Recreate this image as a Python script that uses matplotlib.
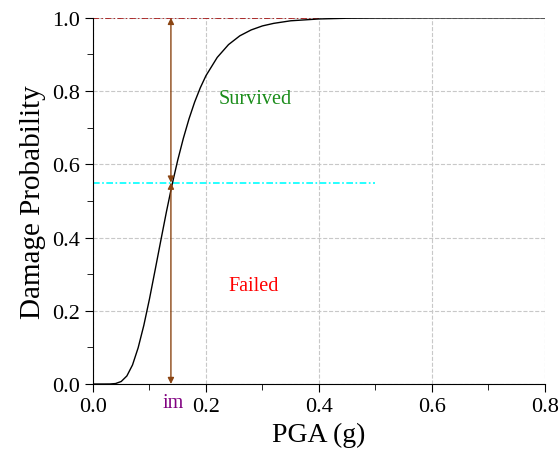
import numpy as np
import matplotlib
matplotlib.use('Agg')
from matplotlib import pyplot as plt
from matplotlib.ticker import MultipleLocator

plt.rcParams['font.family'] = ['Liberation Serif', 'DejaVu Serif']

# fragility curve
pga = [0.0, 0.02, 0.03, 0.04, 0.05, 0.06, 0.07, 0.08, 0.09, 0.10, 0.11, 0.12, 0.13,
       0.14, 0.15, 0.16, 0.17, 0.18, 0.19, 0.20, 0.22, 0.24, 0.26, 0.28, 0.30, 0.32,
       0.35, 0.40, 0.45, 0.50, 0.60, 0.80]
prob = [0.0, 0.0, 0.0001, 0.0013, 0.0069, 0.022, 0.052, 0.099, 0.160, 0.232, 0.311,
        0.391, 0.470, 0.544, 0.611, 0.671, 0.724, 0.770, 0.809, 0.842, 0.892, 0.927,
        0.951, 0.967, 0.978, 0.985, 0.992, 0.997, 0.999, 0.9995, 0.9999, 1.0]

im = 0.138        # intensity measure marker
p_im = 0.55       # probability at im
red_x = [0.0, 0.4]
cyan_x = [0.0, 0.5]

fig = plt.figure(figsize=(5.6, 4.6), dpi=100)
ax = fig.add_axes([0.166, 0.163, 0.807, 0.796])

ax.plot(red_x, [1.0, 1.0], color='#a00000', lw=1.1, ls='-.', dashes=(4, 1.5, 1, 1.5))
ax.plot(cyan_x, [p_im, p_im], color='#00ffff', lw=1.2, ls='-.', dashes=(4, 1.5, 1, 1.5))
ax.plot(pga, prob, color='black', lw=1.0)

arrow = dict(arrowstyle='<|-|>', color='#8b4513', lw=1.0, mutation_scale=9,
             shrinkA=0, shrinkB=0)
ax.annotate('', xy=(im, 1.0), xytext=(im, p_im), arrowprops=arrow)
ax.annotate('', xy=(im, p_im), xytext=(im, 0.0), arrowprops=arrow)

ax.text(0.288, 0.78, 'Survived', color='#1a8c1a', fontsize=14.5, ha='center', va='center')
ax.text(0.285, 0.27, 'Failed', color='red', fontsize=14.5, ha='center', va='center')
ax.text(im + 0.004, -0.05, 'im', color='purple', fontsize=14.5, ha='center', va='center',
        clip_on=False)

ax.set_xlim(0, 0.8)
ax.set_ylim(0, 1.0)
ax.xaxis.set_major_locator(MultipleLocator(0.2))
ax.xaxis.set_minor_locator(MultipleLocator(0.1))
ax.yaxis.set_major_locator(MultipleLocator(0.2))
ax.yaxis.set_minor_locator(MultipleLocator(0.1))
ax.xaxis.set_major_formatter(plt.FormatStrFormatter('%.1f'))
ax.yaxis.set_major_formatter(plt.FormatStrFormatter('%.1f'))
ax.tick_params(which='both', direction='out', labelsize=16)
ax.tick_params(which='major', length=6)
ax.tick_params(which='minor', length=4)
ax.grid(True, which='major', color='#c8c8c8', ls='--', lw=0.8)
ax.spines['top'].set_visible(False)
ax.spines['right'].set_visible(False)

ax.set_xlabel('PGA (g)', fontsize=20)
ax.set_ylabel('Damage Probability', fontsize=21)

fig.savefig('out.png', dpi=100)
